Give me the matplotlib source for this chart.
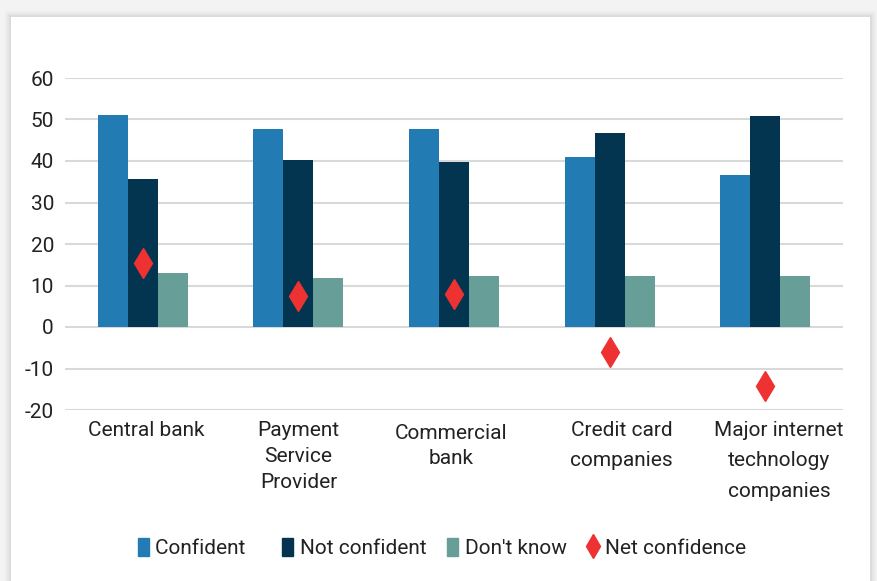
import matplotlib
matplotlib.use("Agg")
import matplotlib.pyplot as plt
from matplotlib.patches import Rectangle
from matplotlib.lines import Line2D
from matplotlib.transforms import ScaledTranslation
import numpy as np

plt.rcParams['font.family'] = ['Roboto', 'DejaVu Sans']

categories = ["Central bank", "Payment\nService\nProvider", "Commercial\nbank",
              "Credit card\ncompanies", "Major internet\ntechnology\ncompanies"]
confident = [51.2, 47.7, 47.6, 40.9, 36.6]
not_confident = [35.7, 40.2, 39.8, 46.8, 50.9]
dont_know = [13.0, 11.9, 12.4, 12.2, 12.4]
net_confidence = [15.4, 7.5, 7.9, -6.1, -14.2]
yticks = [-20, -10, 0, 10, 20, 30, 40, 50, 60]

W, H = 877, 581
fig = plt.figure(figsize=(W/100, H/100), dpi=100, facecolor='#f3f3f3')

# card with soft shadow
for k, a in enumerate([0.02, 0.03, 0.04]):
    pad = (3 - k) * 2
    fig.patches.append(Rectangle(((11 - pad)/W, 0), (859 + 2*pad)/W, (564 + pad)/H,
                                 transform=fig.transFigure, facecolor='#000000',
                                 alpha=a, edgecolor='none', zorder=-3))
fig.patches.append(Rectangle((11/W, 0), 859/W, 564/H, transform=fig.transFigure,
                             facecolor='white', edgecolor='none', zorder=-2))

ax = fig.add_axes([65/W, (H-410)/H, (843-65)/W, (410-78)/H])
ax.set_facecolor('none')
x = np.arange(len(categories))
bw = 0.193
ax.bar(x - bw, confident, bw, color='#237bb4', zorder=3, label='Confident')
ax.bar(x, not_confident, bw, color='#033550', zorder=3, label='Not confident')
ax.bar(x + bw, dont_know, bw, color='#679f98', zorder=3, label="Don't know")
ax.plot(x, net_confidence, linestyle='none', marker='d', markersize=15,
        color='#ee3131', zorder=4, label='Net confidence')

ax.set_xlim(-0.5, len(categories) - 0.5)
ax.set_ylim(-20, 60)
ax.set_yticks(yticks)
ax.set_yticklabels([str(t) for t in yticks])
ax.yaxis.grid(True, color='#d9d9d9', linewidth=1.5, zorder=0)
ax.set_axisbelow(True)
for s in ax.spines.values():
    s.set_visible(False)
ax.tick_params(axis='y', length=0, pad=8, labelsize=15, labelcolor='#222222')
ax.tick_params(axis='x', length=0, pad=8, labelsize=15, labelcolor='#222222')
ax.set_xticks(x)
ax.set_xticklabels(categories, va='top')
spacings = [1.4, 1.45, 1.4, 1.75, 1.75]
dx_px = [3, 0, -3, 12, 14]
dy_px = [0, 0, -3, 0, 0]
for lab, ls, dx, dy in zip(ax.get_xticklabels(), spacings, dx_px, dy_px):
    lab.set_linespacing(ls)
    lab.set_transform(lab.get_transform() + ScaledTranslation(dx/100, dy/100, fig.dpi_scale_trans))

handles = [Rectangle((0, 0), 1, 1, color='#237bb4'),
           Rectangle((0, 0), 1, 1, color='#033550'),
           Rectangle((0, 0), 1, 1, color='#679f98'),
           Line2D([], [], linestyle='none', marker='d', markersize=12, color='#ee3131')]
labels = ['Confident   ', 'Not confident', "Don't know", 'Net confidence']
fig.legend(handles, labels, loc='center', bbox_to_anchor=(442/W, (H-548)/H),
           ncol=4, frameon=False, fontsize=15, handlelength=0.55, handleheight=1.0,
           handletextpad=0.3, columnspacing=1.0, labelcolor='#222222')

fig.savefig('out.png', dpi=100, facecolor=fig.get_facecolor())
